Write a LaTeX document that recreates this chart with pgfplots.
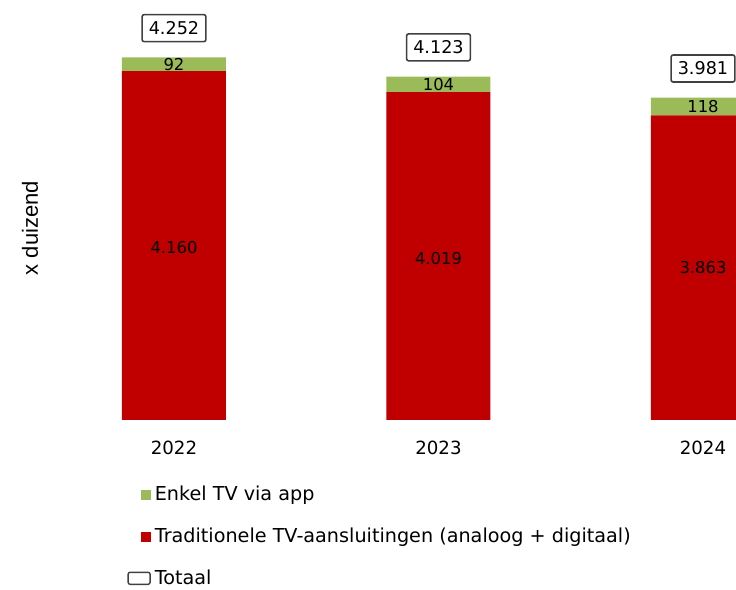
\documentclass[border=0pt]{standalone}
\usepackage{fontspec}
\setmainfont{DejaVu Sans}
\newfontfamily\labfont{Liberation Sans}
\usepackage{pgfplots}
\usepackage{pgfplotstable}
\pgfplotsset{compat=1.18}
\definecolor{trad}{HTML}{C00000}
\definecolor{app}{HTML}{9BBB59}
\definecolor{boxc}{HTML}{404040}

\pgfplotstableread{
x trad app tot
0 4160 92 4252
1 4019 104 4123
2 3863 118 3981
}\tvdata

\begin{document}
\begin{tikzpicture}[font=\fontsize{9.5}{11.5}\selectfont]
\path[use as bounding box] (0,0) rectangle (368pt,295pt);
\clip (0,0) rectangle (368pt,295pt);
\begin{axis}[
  x=132.25pt, y=0.0745pt,
  xmin=-0.6, xmax=2.6, ymin=1818, ymax=4500,
  at={(7.65pt,85pt)}, anchor=south west,
  ybar stacked, bar width=52pt,
  axis line style={draw=none},
  ytick=\empty, xtick={0,1,2}, xticklabels={2022,2023,2024},
  major tick length=0pt,
  xticklabel style={yshift=-7pt, font=\fontsize{9.1}{11}\selectfont},
  clip mode=individual,
  ylabel={x duizend},
  ylabel style={at={(rel axis cs:0.0174,0.48)}, anchor=center, font=\labfont\fontsize{11}{13}\selectfont},
  legend style={at={(rel axis cs:0.132,-0.155)}, anchor=north west, draw=none, fill=none,
    font=\fontsize{9.6}{11.5}\selectfont, row sep=8pt, inner sep=0pt},
  legend cell align=left,
]
\addlegendimage{legend image code/.code={\path (0pt,0pt) (11pt,0pt); \fill[app] (6.5pt,-2.25pt) rectangle (11pt,2.25pt);}}
\addlegendentry{Enkel TV via app}
\addlegendimage{legend image code/.code={\path (0pt,0pt) (11pt,0pt); \fill[trad] (6.5pt,-2.25pt) rectangle (11pt,2.25pt);}}
\addlegendentry{Traditionele TV-aansluitingen (analoog + digitaal)}
\addlegendimage{legend image code/.code={\draw[boxc, line width=0.7pt, rounded corners=1pt] (0pt,-3pt) rectangle (11pt,3pt);}}
\addlegendentry{Totaal}

\addplot[fill=trad, draw=none, forget plot] table[x=x, y=trad] {\tvdata};
\addplot[fill=app, draw=none, forget plot] table[x=x, y=app] {\tvdata};

% label anchors: red segment centres, green segment centres, totals
\coordinate (r0) at (axis cs:0,2975);
\coordinate (r1) at (axis cs:1,2902);
\coordinate (r2) at (axis cs:2,2840);
\coordinate (g0) at (axis cs:0,4203);
\coordinate (g1) at (axis cs:1,4069);
\coordinate (g2) at (axis cs:2,3922);
\coordinate (t0) at (axis cs:0,4252);
\coordinate (t1) at (axis cs:1,4123);
\coordinate (t2) at (axis cs:2,3981);
\end{axis}
\tikzset{val/.style={font=\fontsize{8.2}{10}\selectfont},
  tot/.style={draw=boxc, line width=0.8pt, rounded corners=1pt, fill=white,
  minimum height=13.5pt, minimum width=31.5pt, font=\fontsize{8.8}{10.5}\selectfont, yshift=14.6pt}}
\node[val] at (r0) {4.160};
\node[val] at (r1) {4.019};
\node[val] at (r2) {3.863};
\node[val] at (g0) {92};
\node[val] at (g1) {104};
\node[val] at (g2) {118};
\node[tot] at (t0) {4.252};
\node[tot] at (t1) {4.123};
\node[tot] at (t2) {3.981};
\end{tikzpicture}
\end{document}
